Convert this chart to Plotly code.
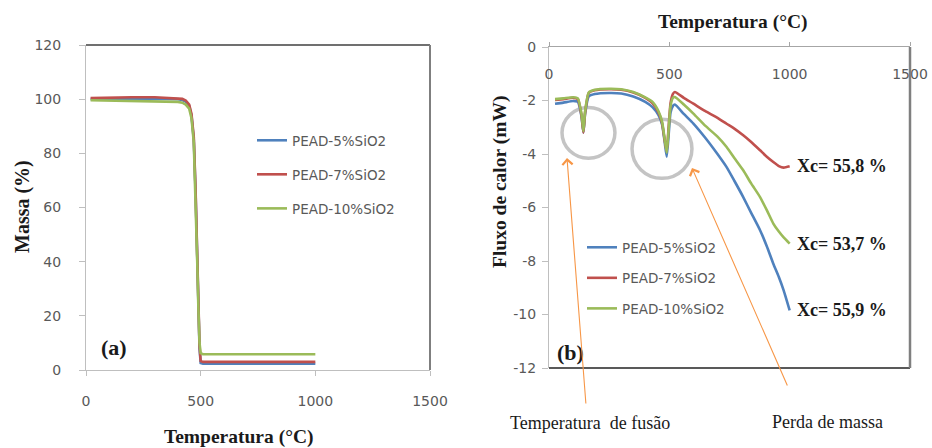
import plotly.graph_objects as go

# ---------------- data ----------------
series_names = ["PEAD-5%SiO2", "PEAD-7%SiO2", "PEAD-10%SiO2"]
series_colors = ["#4f81bd", "#c0504d", "#9bbb59"]

# (a) TGA
temp_tga = [20, 100, 200, 300, 400, 420, 435, 450, 460, 470, 478, 485, 490, 495, 500, 510, 600, 800, 1000]
mass_5 = [100.0, 100.1, 100.2, 100.2, 100.0, 99.7, 99.1, 97.5, 94.0, 85.0, 65.0, 40.0, 22.0, 8.0, 2.6, 2.3, 2.3, 2.3, 2.3]
mass_7 = [100.4, 100.6, 100.7, 100.7, 100.4, 100.1, 99.5, 98.0, 94.5, 86.0, 66.0, 41.0, 23.0, 9.0, 3.3, 3.0, 3.0, 3.0, 3.0]
mass_10 = [99.6, 99.5, 99.4, 99.3, 99.0, 98.7, 98.0, 96.5, 93.0, 84.0, 64.0, 40.0, 23.0, 10.0, 6.2, 5.8, 5.8, 5.8, 5.8]

# (b) DSC
temp_dsc = [25, 60, 100, 120, 135, 143, 150, 165, 190, 250, 300, 350, 400, 430, 455, 470, 480, 489,
            497, 505, 515, 523, 560, 600, 650, 700, 738, 770, 807, 840, 877, 905, 932, 955, 975, 1000]
flux_5 = [-2.12, -2.08, -2.02, -2.05, -2.6, -3.2, -2.5, -1.85, -1.76, -1.72, -1.74, -1.85, -2.05, -2.25,
          -2.55, -2.9, -3.5, -4.1, -3.3, -2.45, -2.2, -2.15, -2.5, -2.86, -3.4, -4.0, -4.49, -5.0,
          -5.61, -6.2, -6.85, -7.45, -8.1, -8.6, -9.1, -9.85]
flux_7 = [-1.98, -1.95, -1.9, -1.95, -2.55, -3.2, -2.45, -1.72, -1.62, -1.58, -1.6, -1.7, -1.9, -2.1,
          -2.45, -2.85, -3.45, -3.9, -3.0, -2.1, -1.75, -1.68, -1.9, -2.12, -2.4, -2.65, -2.87, -3.05,
          -3.3, -3.55, -3.86, -4.1, -4.3, -4.45, -4.51, -4.46]
flux_10 = [-1.95, -1.92, -1.88, -1.92, -2.5, -3.15, -2.4, -1.7, -1.6, -1.56, -1.58, -1.68, -1.88, -2.05,
           -2.4, -2.8, -3.4, -3.95, -3.1, -2.2, -1.9, -1.87, -2.15, -2.49, -2.95, -3.35, -3.74, -4.15,
           -4.61, -5.1, -5.61, -6.1, -6.6, -6.9, -7.12, -7.35]

x_ticks = [0, 500, 1000, 1500]
y1_ticks = [0, 20, 40, 60, 80, 100, 120]
y2_ticks = [0, -2, -4, -6, -8, -10, -12]
y2_ticktext = ["0", "-2", "-4", "-6", "-8", "-10", "-12"]

xc_labels = ["Xc= 55,9 %", "Xc= 55,8 %", "Xc= 53,7 %"]

tga = [mass_5, mass_7, mass_10]
dsc = [flux_5, flux_7, flux_10]

# ---------------- figure ----------------
fig = go.Figure()
for i in range(3):
    fig.add_trace(go.Scatter(x=temp_tga, y=tga[i], mode="lines", name=series_names[i],
                             line=dict(color=series_colors[i], width=2.6),
                             xaxis="x", yaxis="y", legend="legend", legendgroup="a%d" % i))
for i in range(3):
    fig.add_trace(go.Scatter(x=temp_dsc, y=dsc[i], mode="lines", name=series_names[i],
                             line=dict(color=series_colors[i], width=2.6, shape="spline", smoothing=0.5),
                             xaxis="x2", yaxis="y2", legend="legend2", legendgroup="b%d" % i))
# invisible carrier so the label-only overlay axis is drawn
fig.add_trace(go.Scatter(x=temp_dsc, y=flux_5, mode="lines", opacity=0, showlegend=False,
                         hoverinfo="skip", xaxis="x3", yaxis="y2", line=dict(width=0)))

tickfont = dict(family="DejaVu Sans", size=14, color="#595959")
serif_b = "Liberation Serif"

W, H = 932, 448
def px(x):
    return x / W
def py(y):
    return 1 - y / H

def label(text, x, y, size, angle=0):
    return dict(text=text, x=px(x), y=py(y), xref="paper", yref="paper", textangle=angle,
                xanchor="center", yanchor="middle", showarrow=False,
                font=dict(family=serif_b, size=size, color="#1a1a1a"))

annotations = [
    label("<b>Temperatura (°C)</b>", 239, 437, 19.5),
    label("<b>Massa (%)</b>", 22, 207, 20, -90),
    label("<b>(a)</b>", 114, 347, 22),
    label("<b>Temperatura (°C)</b>", 733, 22, 19.5),
    label("<b>Fluxo de calor (mW)</b>", 500, 182, 19.5, -90),
    label("<b>(b)</b>", 570, 352, 22),
    label("Temperatura  de fusão", 590, 423, 18),
    label("Perda de massa", 827, 422, 18),
    # arrows
    dict(text="", x=px(567), y=py(158), xref="paper", yref="paper", ax=19, ay=247,
         showarrow=True, arrowhead=4, arrowsize=1.8, arrowwidth=1.1, arrowcolor="#f79646", standoff=0),
    dict(text="", x=px(692), y=py(168), xref="paper", yref="paper", ax=96, ay=219,
         showarrow=True, arrowhead=4, arrowsize=1.8, arrowwidth=1.1, arrowcolor="#f79646", standoff=0),
]
for i in range(3):
    annotations.append(dict(text="<b>%s</b>" % xc_labels[i], x=temp_dsc[-1], y=dsc[i][-1],
                            xref="x2", yref="y2", xanchor="left", yanchor="middle", xshift=5,
                            showarrow=False, font=dict(family=serif_b, size=18, color="#1a1a1a")))

shapes = [
    dict(type="line", xref="x domain", yref="y domain", x0=0, x1=1, y0=1, y1=1,
         line=dict(color="#404040", width=1.5)),
    dict(type="line", xref="x domain", yref="y domain", x0=1, x1=1, y0=0, y1=1,
         line=dict(color="#7f7f7f", width=2)),
    dict(type="line", xref="x2 domain", yref="y2 domain", x0=0, x1=1, y0=0, y1=0,
         line=dict(color="#595959", width=2)),
    dict(type="line", xref="x2 domain", yref="y2 domain", x0=1, x1=1, y0=0, y1=1,
         line=dict(color="#7f7f7f", width=2.5)),
    dict(type="circle", xref="x2", yref="y2", x0=54, x1=274, y0=-2.26, y1=-4.16, layer="below",
         line=dict(color="#c4c4c4", width=3.5)),
    dict(type="circle", xref="x2", yref="y2", x0=345, x1=594, y0=-2.70, y1=-4.91, layer="below",
         line=dict(color="#c4c4c4", width=3.5)),
]

common = dict(showgrid=False, zeroline=False, automargin=False)

fig.update_layout(
    template="none",
    width=W, height=H, margin=dict(l=0, r=0, t=0, b=0, autoexpand=False),
    paper_bgcolor="white", plot_bgcolor="white", showlegend=True,
    xaxis=dict(domain=[px(86), px(430)], range=[0, 1500], tickvals=x_ticks, anchor="y",
               ticks="outside", ticklen=5, tickcolor="#bfbfbf", showline=True, linecolor="#bfbfbf",
               tickfont=tickfont, ticklabelstandoff=13, **common),
    yaxis=dict(domain=[py(370), py(45)], range=[0, 120], tickvals=y1_ticks, anchor="x",
               ticks="outside", ticklen=6, tickcolor="#bfbfbf", showline=True, linecolor="#bfbfbf",
               tickfont=tickfont, ticklabelstandoff=15, **common),
    xaxis2=dict(domain=[px(549), px(910)], range=[0, 1500], tickvals=x_ticks, anchor="y2", side="top",
                ticks="outside", ticklen=4, tickcolor="#a6a6a6", showline=True, linecolor="#a6a6a6",
                showticklabels=False, **common),
    xaxis3=dict(overlaying="x2", range=[0, 1500], tickvals=x_ticks, anchor="free", side="bottom",
                position=py(64), showline=False, ticks="", tickfont=tickfont, **common),
    yaxis2=dict(domain=[py(368), py(47)], range=[-12, 0], tickvals=y2_ticks, ticktext=y2_ticktext,
                anchor="x2", ticks="outside", ticklen=6, tickcolor="#bfbfbf", showline=True,
                linecolor="#bfbfbf", tickfont=tickfont, ticklabelstandoff=3, **common),
    legend=dict(x=px(252), y=py(125), xanchor="left", yanchor="top", bgcolor="rgba(0,0,0,0)",
                font=dict(family="DejaVu Sans", size=13.5, color="#595959"), tracegroupgap=13.5),
    legend2=dict(x=px(582), y=py(232), xanchor="left", yanchor="top", bgcolor="rgba(0,0,0,0)",
                 font=dict(family="DejaVu Sans", size=13.5, color="#595959"), tracegroupgap=10),
    annotations=annotations,
    shapes=shapes,
)

fig.write_html("out.html")
